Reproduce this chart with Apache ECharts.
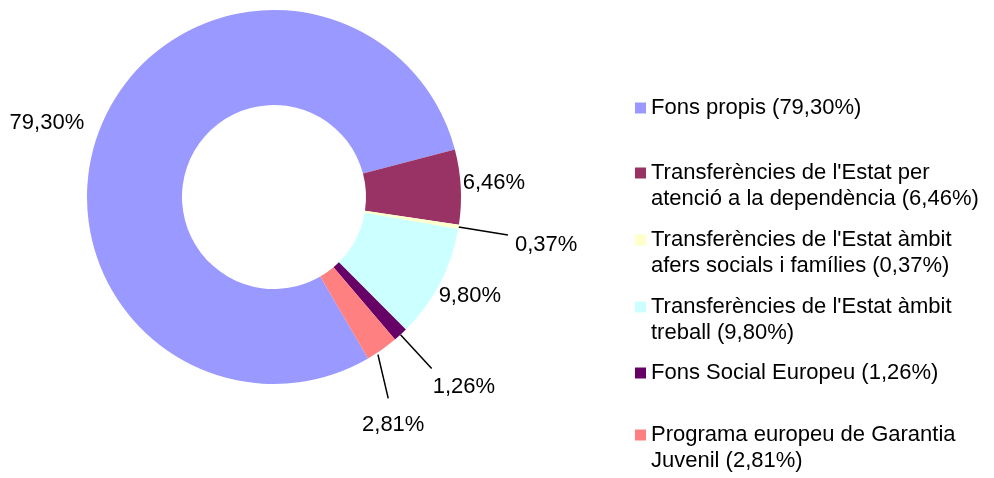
<!DOCTYPE html>
<html>
<head>
<meta charset="utf-8">
<script src="https://cdn.jsdelivr.net/npm/echarts@6/dist/echarts.min.js"></script>
<style>
  html, body { margin: 0; padding: 0; background: #fff; }
  #chart { width: 994px; height: 478px; }
</style>
</head>
<body>
<div id="chart"></div>
<script>
const categories = [
  'Fons propis',
  "Transferències de l'Estat per atenció a la dependència",
  "Transferències de l'Estat àmbit afers socials i famílies",
  "Transferències de l'Estat àmbit treball",
  'Fons Social Europeu',
  'Programa europeu de Garantia Juvenil'
];
const values = [79.30, 6.46, 0.37, 9.80, 1.26, 2.81];
const legendText = [
  'Fons propis (79,30%)',
  "Transferències de l'Estat per\natenció a la dependència (6,46%)",
  "Transferències de l'Estat àmbit\nafers socials i famílies (0,37%)",
  "Transferències de l'Estat àmbit\ntreball (9,80%)",
  'Fons Social Europeu (1,26%)',
  'Programa europeu de Garantia\nJuvenil (2,81%)'
];
const colors = ['#9999ff', '#993366', '#ffffcc', '#ccffff', '#660066', '#ff8080'];

// label tweaks (line length, shown?, shift)
const lineLen = [12, 2, 50, 2, 46, 40];
const lineShow = [false, false, true, false, true, true];
const labelShift = [[-1, 2], [-5, -4], [2, 10], [-8, 12], [-4, 18], [-48, 43]];
// 2,81% leader goes down to just above its label instead of radially
const lineToLabel = [false, false, false, false, false, true];
// first-line centre of each legend entry
const legendY = [108, 173, 240, 307, 373, 435];

const font = 'Liberation Sans, Arial, sans-serif';
const LH = 26;

const chart = echarts.init(document.getElementById('chart'));

const legends = categories.map((name, i) => {
  const twoLines = legendText[i].indexOf('\n') >= 0;
  // blank first line so the marker sits level with the first text line
  const txt = twoLines ? ' \n' + legendText[i] : legendText[i];
  return {
    data: [name],
    left: 635,
    top: twoLines ? legendY[i] - LH * 1.5 : legendY[i] - LH / 2,
    padding: 0,
    icon: 'rect',
    itemWidth: 11,
    itemHeight: 11,
    itemGap: 0,
    selectedMode: false,
    formatter: () => txt,
    textStyle: {
      fontFamily: font,
      fontSize: 22,
      lineHeight: LH,
      color: '#000'
    }
  };
});

chart.setOption({
  backgroundColor: '#fff',
  animation: false,
  color: colors,
  legend: legends,
  series: [{
    type: 'pie',
    center: [274, 197],
    radius: [92, 187],
    startAngle: 300.2,
    clockwise: true,
    avoidLabelOverlap: false,
    data: categories.map((name, i) => ({
      name: name,
      value: values[i],
      labelLine: {
        show: lineShow[i],
        length: lineLen[i],
        length2: 0,
        lineStyle: { color: '#000', width: 1.5 }
      }
    })),
    label: {
      show: true,
      position: 'outside',
      fontFamily: font,
      fontSize: 22,
      color: '#000',
      formatter: p => p.value.toFixed(2).replace('.', ',') + '%'
    },
    labelLayout: p => {
      const i = p.dataIndex;
      const dx = labelShift[i][0], dy = labelShift[i][1];
      const res = { dx: dx, dy: dy };
      if (lineToLabel[i] && p.labelLinePoints) {
        const r = p.labelRect;
        const start = p.labelLinePoints[0];
        res.labelLinePoints = [
          [start[0] - 4, start[1] + 5],
          [r.x + dx + r.width / 2 - 5, r.y + dy - 16]
        ];
      }
      return res;
    },
    itemStyle: { borderWidth: 0 },
    emphasis: { disabled: true }
  }]
});
</script>
</body>
</html>
